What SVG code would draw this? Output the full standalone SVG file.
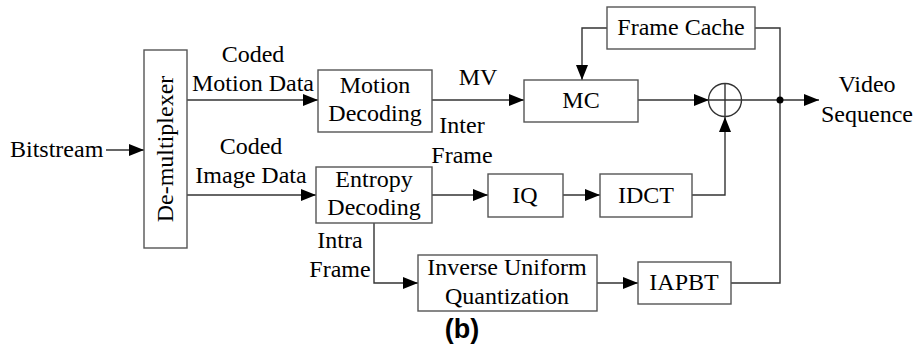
<svg xmlns="http://www.w3.org/2000/svg" width="914" height="352" viewBox="0 0 914 352">
  <style>
    .box { fill: #fff; stroke: #555; stroke-width: 1.4; }
    .wire { fill: none; stroke: #333; stroke-width: 1.4; }
    .arr { marker-end: url(#head); }
    text { font-family: "Liberation Serif", "Times New Roman", serif; font-size: 24px; fill: #000; }
    .c { text-anchor: middle; }
    .cap { font-family: "Liberation Sans", Arial, sans-serif; font-weight: bold; font-size: 27px; }
  </style>
  <defs>
    <marker id="head" markerUnits="userSpaceOnUse" markerWidth="16" markerHeight="12" refX="15" refY="6" orient="auto">
      <path d="M0,0 L15,6 L0,12 Z" fill="#000"/>
    </marker>
  </defs>
  <rect width="914" height="352" fill="#fff"/>

  <!-- connectors -->
  <g id="connectors">
    <line class="wire arr" x1="106" y1="150" x2="144" y2="150"/>
    <line class="wire arr" x1="187" y1="100" x2="318" y2="100"/>
    <line class="wire arr" x1="187" y1="195" x2="316" y2="195"/>
    <line class="wire arr" x1="432" y1="100" x2="524" y2="100"/>
    <polyline class="wire arr" points="607,28 582,28 582,80"/>
    <line class="wire arr" x1="638" y1="100" x2="709" y2="100"/>
    <line class="wire" x1="741" y1="100" x2="780" y2="100"/>
    <line class="wire arr" x1="780" y1="100" x2="819" y2="100"/>
    <polyline class="wire" points="755,28 780,28 780,283 731,283"/>
    <circle cx="780" cy="100" r="3.5" fill="#000"/>
    <line class="wire arr" x1="432" y1="195" x2="488" y2="195"/>
    <line class="wire arr" x1="563" y1="195" x2="600" y2="195"/>
    <polyline class="wire arr" points="692,195 725,195 725,117"/>
    <polyline class="wire arr" points="374,223 374,283 418,283"/>
    <line class="wire arr" x1="597" y1="283" x2="638" y2="283"/>
  </g>

  <!-- connector labels -->
  <g id="labels">
    <text x="10" y="157">Bitstream</text>
    <text class="c" x="253" y="62">Coded</text>
    <text class="c" x="253" y="91">Motion Data</text>
    <text class="c" x="251" y="154">Coded</text>
    <text class="c" x="251" y="183">Image Data</text>
    <text class="c" x="478" y="85">MV</text>
    <text class="c" x="462" y="133">Inter</text>
    <text class="c" x="462" y="163">Frame</text>
    <text class="c" x="340" y="248">Intra</text>
    <text class="c" x="340" y="277">Frame</text>
    <text class="c" x="867" y="92">Video</text>
    <text class="c" x="867" y="122">Sequence</text>
  </g>

  <g id="demux">
    <rect class="box" x="144" y="50" width="43" height="198"/>
    <text class="c" transform="translate(173,149) rotate(-90)">De-multiplexer</text>
  </g>

  <g id="motion-decoding">
    <rect class="box" x="318" y="70" width="114" height="62"/>
    <text class="c" x="375" y="93">Motion</text>
    <text class="c" x="375" y="121">Decoding</text>
  </g>

  <g id="mc">
    <rect class="box" x="524" y="80" width="114" height="42"/>
    <text class="c" x="581" y="108">MC</text>
  </g>

  <g id="frame-cache">
    <rect class="box" x="607" y="7" width="148" height="42"/>
    <text class="c" x="681" y="35">Frame Cache</text>
  </g>

  <g id="adder">
    <circle cx="725" cy="100" r="16.5" fill="#fff" stroke="#333" stroke-width="1.4"/>
    <line class="wire" x1="708.5" y1="100" x2="741.5" y2="100"/>
    <line class="wire" x1="725" y1="83.5" x2="725" y2="116.5"/>
  </g>

  <g id="entropy-decoding">
    <rect class="box" x="316" y="167" width="116" height="56"/>
    <text class="c" x="374" y="187">Entropy</text>
    <text class="c" x="374" y="215">Decoding</text>
  </g>

  <g id="iq">
    <rect class="box" x="488" y="174" width="75" height="43"/>
    <text class="c" x="525" y="203">IQ</text>
  </g>

  <g id="idct">
    <rect class="box" x="600" y="174" width="92" height="43"/>
    <text class="c" x="646" y="203">IDCT</text>
  </g>

  <g id="inverse-quant">
    <rect class="box" x="418" y="255" width="179" height="56"/>
    <text class="c" x="507" y="275">Inverse Uniform</text>
    <text class="c" x="507" y="304">Quantization</text>
  </g>

  <g id="iapbt">
    <rect class="box" x="638" y="262" width="93" height="42"/>
    <text class="c" x="684" y="290">IAPBT</text>
  </g>

  <text class="cap c" x="462" y="338">(b)</text>
</svg>
